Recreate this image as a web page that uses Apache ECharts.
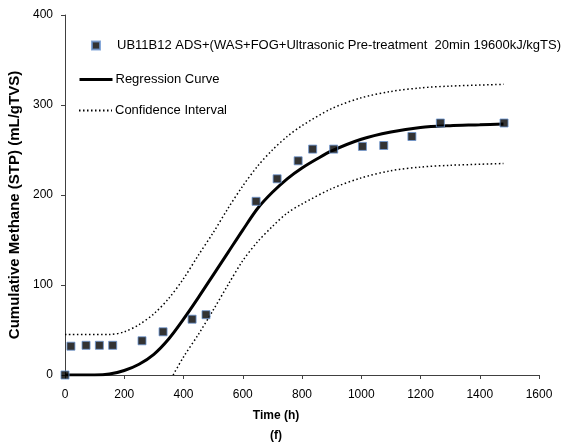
<!DOCTYPE html>
<html><head><meta charset="utf-8">
<script src="https://cdn.jsdelivr.net/npm/echarts@6/dist/echarts.min.js"></script>
<style>html,body{margin:0;padding:0;background:#fff}#c{width:564px;height:445px}</style>
</head><body><div id="c"></div>
<script>
// Measured data
const obsTime = [0, 20, 71, 116, 161, 260, 331, 429, 476, 645, 716, 787, 836, 907, 1004, 1076, 1171, 1267, 1482];
const obsMethane = [0, 32, 33, 33, 33, 38, 48, 62, 67, 193, 218, 238, 251, 251, 254, 255, 265, 280, 280];

const fitTime = [0, 100, 150, 200, 250, 300, 350, 400, 450, 500, 550, 600, 650, 700, 750, 800, 850, 900, 1000, 1100, 1200, 1300, 1400, 1480];
const fitMethane = [0, 0, 1, 5, 12, 23, 40, 62, 86, 111, 136, 161, 185, 203, 218, 230, 240, 249, 262, 270, 275, 277, 278, 279];

const upperTime = [0, 150, 200, 250, 300, 350, 400, 450, 500, 550, 600, 650, 700, 750, 800, 900, 1000, 1100, 1200, 1300, 1480];
const upperMethane = [45, 45, 48, 56, 68, 85, 107, 133, 158, 185, 210, 232, 250, 265, 277, 296, 308, 315, 319, 321, 323];

const lowerTime = [365, 400, 450, 500, 550, 600, 650, 700, 750, 800, 900, 1000, 1100, 1200, 1300, 1480];
const lowerMethane = [0, 20, 45, 72, 100, 127, 148, 165, 180, 190, 207, 219, 227, 231, 233, 235];

const xTicks = [0, 200, 400, 600, 800, 1000, 1200, 1400, 1600];
const yTicks = [0, 100, 200, 300, 400];

const nameObs = 'UB11B12 ADS+(WAS+FOG+Ultrasonic Pre-treatment  20min 19600kJ/kgTS)';
const nameFit = 'Regression Curve';
const nameCI = 'Confidence Interval';

const zip = (a, b) => a.map((v, i) => [v, b[i]]);
const font = 'Liberation Sans, Arial, sans-serif';

const chart = echarts.init(document.getElementById('c'), null, {renderer: 'canvas'});
chart.setOption({
  animation: false,
  backgroundColor: '#fff',
  textStyle: {fontFamily: font},
  grid: {left: 65, right: 25, top: 15, bottom: 70, containLabel: false, outerBoundsMode: 'none'},
  legend: [
    {data: [nameObs], left: 86, top: 34, itemWidth: 8, itemHeight: 8, itemGap: 0,
     textStyle: {fontFamily: font, fontSize: 13, color: '#000', padding: [0, 0, 0, 12]}},
    {data: [nameFit], left: 73, top: 68, itemWidth: 33, itemHeight: 14,
     itemStyle: {opacity: 0}, lineStyle: {width: 3, color: '#000'},
     textStyle: {fontFamily: font, fontSize: 13, color: '#000', padding: [0, 0, 0, -2]}},
    {data: [nameCI], left: 73, top: 99, itemWidth: 33, itemHeight: 14,
     itemStyle: {opacity: 0},
     textStyle: {fontFamily: font, fontSize: 13, color: '#000', padding: [0, 0, 0, -2]}}
  ],
  xAxis: {
    type: 'value', min: xTicks[0], max: xTicks[xTicks.length - 1], interval: 200,
    name: 'Time (h)\n(f)', nameLocation: 'middle', nameGap: 29,
    nameTextStyle: {fontFamily: font, fontSize: 12, fontWeight: 'bold', color: '#000', lineHeight: 20,
      verticalAlign: 'top', padding: [0, 52, 0, 0]},
    axisLine: {lineStyle: {color: '#404040', width: 1}},
    axisTick: {show: true, inside: false, length: 4, lineStyle: {color: '#404040'}},
    axisLabel: {fontFamily: font, fontSize: 12, color: '#000', margin: 14, formatter: v => String(v)},
    splitLine: {show: false}
  },
  yAxis: {
    type: 'value', min: yTicks[0], max: yTicks[yTicks.length - 1], interval: 100,
    name: 'Cumulative Methane (STP) (mL/gTVS)', nameLocation: 'middle', nameGap: 30,
    nameTextStyle: {fontFamily: font, fontSize: 15, fontWeight: 'bold', color: '#000', padding: [0, 20, 0, 0]},
    axisLine: {show: true, lineStyle: {color: '#404040', width: 1}},
    axisTick: {show: true, inside: false, length: 4, lineStyle: {color: '#404040'}},
    axisLabel: {fontFamily: font, fontSize: 12, color: '#000', margin: 12, formatter: v => String(v)},
    splitLine: {show: false}
  },
  series: [
    {name: nameFit, type: 'line', data: zip(fitTime, fitMethane), smooth: 0.3,
     symbol: 'none', lineStyle: {color: '#000', width: 3}, itemStyle: {color: '#000'}, z: 2},
    {name: nameCI, type: 'line', data: zip(upperTime, upperMethane), smooth: 0.3,
     symbol: 'none', lineStyle: {color: '#000', width: 1.5, type: [1.5, 2.5]}, itemStyle: {color: '#000'}, z: 2},
    {name: nameCI, type: 'line', data: zip(lowerTime, lowerMethane), smooth: 0.3,
     symbol: 'none', lineStyle: {color: '#000', width: 1.5, type: [1.5, 2.5]}, itemStyle: {color: '#000'}, z: 2},
    {name: nameObs, type: 'scatter', data: zip(obsTime, obsMethane), symbol: 'rect', symbolSize: 8,
     itemStyle: {color: '#000', borderColor: '#6a93cf', borderWidth: 1}, z: 5}
  ]
});
</script></body></html>
